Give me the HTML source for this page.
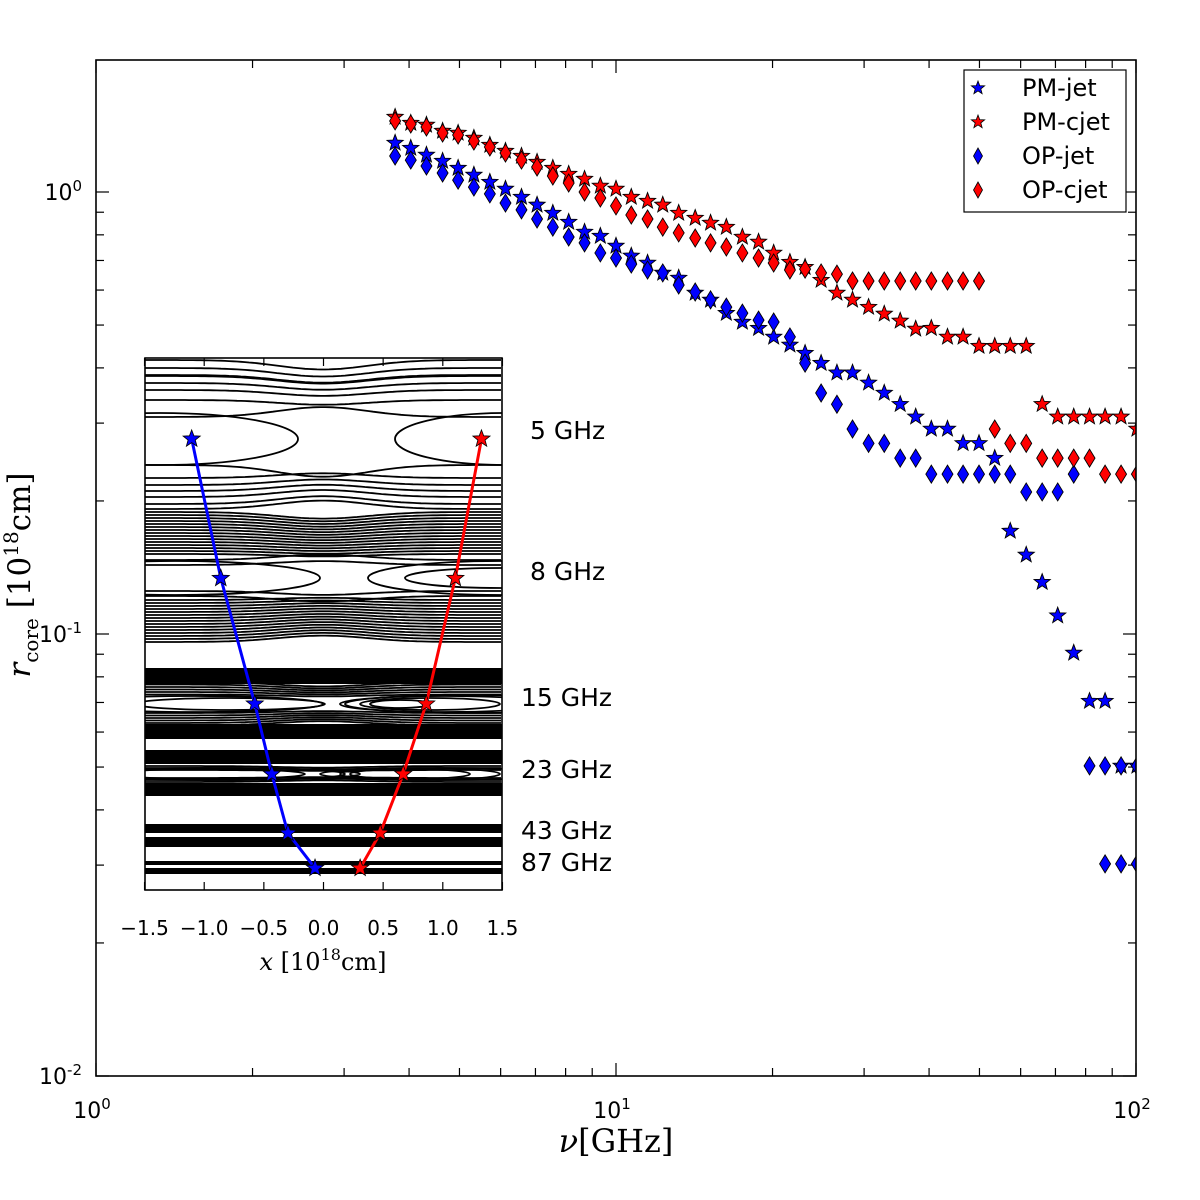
<!DOCTYPE html>
<html><head><meta charset="utf-8"><style>
html,body{margin:0;padding:0;background:#fff}
svg{display:block}
text{font-family:"DejaVu Sans","Liberation Sans",sans-serif}
.serif{font-family:"DejaVu Serif","Liberation Serif",serif}
</style></head><body>
<svg id="chart" width="1200" height="1200" viewBox="0 0 1200 1200" xmlns="http://www.w3.org/2000/svg">
<rect width="1200" height="1200" fill="#fff"/>
</svg>
<script>
// ---- Data ----
const nuGHz=[3.76,4.03,4.32,4.64,4.97,5.33,5.72,6.13,6.58,7.05,7.56,8.11,8.70,9.33,10.0,10.7,11.5,12.3,13.2,14.2,15.2,16.3,17.5,18.8,20.1,21.6,23.1,24.8,26.6,28.5,30.6,32.8,35.2,37.7,40.4,43.4,46.5,49.9,53.5,57.3,61.5,66.0,70.7,75.9,81.4,87.2,93.6,100.4];
const pmJet=[1.291,1.257,1.213,1.175,1.133,1.093,1.053,1.016,0.974,0.935,0.896,0.855,0.812,0.795,0.755,0.717,0.691,0.656,0.639,0.591,0.570,0.532,0.508,0.492,0.470,0.451,0.432,0.410,0.390,0.390,0.370,0.351,0.331,0.310,0.291,0.291,0.270,0.270,0.250,0.171,0.151,0.131,0.110,0.0906,0.0705,0.0705,0.0503,0.0503];
const pmCjet=[1.478,1.432,1.418,1.374,1.360,1.325,1.277,1.238,1.206,1.169,1.133,1.098,1.070,1.032,1.016,0.974,0.954,0.935,0.896,0.873,0.851,0.833,0.791,0.771,0.728,0.694,0.676,0.632,0.591,0.570,0.549,0.530,0.511,0.490,0.492,0.470,0.470,0.448,0.448,0.448,0.448,0.331,0.310,0.310,0.310,0.310,0.310,0.291];
const opJet=[1.206,1.181,1.145,1.104,1.064,1.026,0.990,0.944,0.911,0.869,0.833,0.791,0.767,0.728,0.709,0.687,0.666,0.656,0.616,0.594,0.570,0.549,0.532,0.513,0.508,0.470,0.410,0.351,0.331,0.291,0.270,0.270,0.250,0.250,0.230,0.230,0.230,0.230,0.230,0.230,0.2096,0.2096,0.2096,0.230,0.0503,0.0302,0.0302,0.0302];
const opCjet=[1.448,1.425,1.403,1.360,1.346,1.304,1.264,1.225,1.181,1.139,1.087,1.048,1.000,0.969,0.930,0.887,0.869,0.833,0.808,0.787,0.767,0.751,0.728,0.709,0.691,0.666,0.669,0.656,0.652,0.629,0.629,0.629,0.629,0.629,0.629,0.629,0.629,0.629,0.291,0.270,0.270,0.250,0.250,0.250,0.250,0.230,0.230,0.230];
const opJetExtra=[null,null,null,null,null,null,null,null,null,null,null,null,null,null,null,null,null,null,null,null,null,null,null,null,null,null,null,null,null,null,null,null,null,null,null,null,null,null,null,null,null,null,null,null,null,0.0503,0.0503,0.0503];
const xTickLabels=["0","1","2"];
const yTickLabels=["-2","-1","0"];
const legendLabels=["PM-jet","PM-cjet","OP-jet","OP-cjet"];
// inset data
const insetFreqLabels=["5 GHz","8 GHz","15 GHz","23 GHz","43 GHz","87 GHz"];
const insetJetX=[-1.105,-0.861,-0.576,-0.433,-0.298,-0.071];
const insetCjetX=[1.324,1.105,0.861,0.668,0.475,0.307];
const insetY=[0.848,0.586,0.350,0.218,0.107,0.041];
const insetTicks=[-1.5,-1.0,-0.5,0.0,0.5,1.0,1.5];

const NS="http://www.w3.org/2000/svg";
const svg=document.getElementById('chart');
function mk(tag,attrs,parent){const e=document.createElementNS(NS,tag);for(const k in attrs)e.setAttribute(k,attrs[k]);(parent||svg).appendChild(e);return e;}

// ---- axes ----
const L=96,R=1136,T=60,B=1076;
const xs=nu=>L+520*Math.log10(nu);
const ys=r=>192-442*Math.log10(r);

const defs=mk('defs',{});
const cp=mk('clipPath',{id:'plotclip'},defs);
mk('rect',{x:L,y:T,width:R-L,height:B-T},cp);
const cp2=mk('clipPath',{id:'insetclip'},defs);
mk('rect',{x:145,y:358,width:357,height:532},cp2);

// ticks
const ticks=mk('g',{stroke:'#000','stroke-width':1.2});


for(let d=0;d<=2;d++){for(let m=1;m<=9;m++){const v=Math.pow(10,d)*m;if(v>100)break;const x=xs(v);const len=m===1?13:8;
 mk('line',{x1:x,y1:B,x2:x,y2:B-len},ticks);mk('line',{x1:x,y1:T,x2:x,y2:T+len},ticks);}}
for(let d=-2;d<=0;d++){for(let m=1;m<=9;m++){const v=Math.pow(10,d)*m;const y=ys(v);if(y<T-0.5)break;const len=m===1?13:8;
 mk('line',{x1:L,y1:y,x2:L+len,y2:y},ticks);mk('line',{x1:R,y1:y,x2:R-len,y2:y},ticks);}}

// tick labels
xTickLabels.forEach((lab,i)=>{const t=mk('text',{x:xs(Math.pow(10,i))-4,y:1118,'font-size':22,'text-anchor':'middle'});
 
 t.appendChild(document.createTextNode('10'));const s=mk('tspan',{dy:-9,'font-size':15},t);s.textContent=lab;});
yTickLabels.forEach((lab,i)=>{const t=mk('text',{x:82,y:ys(Math.pow(10,i-2))+8,'font-size':22,'text-anchor':'end'});
 
 t.appendChild(document.createTextNode('10'));const s=mk('tspan',{dy:-9,'font-size':15},t);s.textContent=lab;});

// axis titles
const xt=mk('text',{x:616,y:1152,'font-size':32,'text-anchor':'middle',class:'serif'});

xt.innerHTML='<tspan font-style="italic">ν</tspan>[GHz]';
const yt=mk('text',{x:0,y:0,'font-size':31,'text-anchor':'middle',class:'serif',transform:'translate(30,575) rotate(-90)'});

yt.innerHTML='<tspan font-style="italic">r</tspan><tspan font-size="20" dy="8">core</tspan><tspan dy="-8"> [10</tspan><tspan font-size="20" dy="-12">18</tspan><tspan dy="12">cm]</tspan>';

// markers
function starPath(cx,cy,ro){const ri=ro*0.42;let p='';for(let k=0;k<10;k++){const a=-Math.PI/2+k*Math.PI/5;const rr=k%2?ri:ro;p+=(k?'L':'M')+(cx+rr*Math.cos(a)).toFixed(2)+' '+(cy+rr*Math.sin(a)).toFixed(2);}return p+'Z';}
function diamondPath(cx,cy,w,h){return `M${cx} ${cy-h}L${cx+w} ${cy}L${cx} ${cy+h}L${cx-w} ${cy}Z`;}
const plotG=mk('g',{'clip-path':'url(#plotclip)'});

function drawSeries(vals,color,shape,name){const g=mk('g',{fill:color,stroke:'#000','stroke-width':0.9},plotG);
 
 vals.forEach((v,i)=>{if(v==null)return;const x=xs(nuGHz[i]),y=ys(v);
  const p=mk('path',{d:shape==='star'?starPath(x,y,8.5):diamondPath(x,y,5.5,9)},g);
  });}
drawSeries(pmJet,'#0000ff','star','pm-jet-series');
drawSeries(pmCjet,'#ff0000','star','pm-cjet-series');
drawSeries(opJet,'#0000ff','diamond','op-jet-series');
drawSeries(opJetExtra,'#0000ff','diamond','op-jet-extra-series');
drawSeries(opCjet,'#ff0000','diamond','op-cjet-series');

// frame
const fr=mk('rect',{x:L,y:T,width:R-L,height:B-T,fill:'none',stroke:'#000','stroke-width':1.6});


// legend
const lg=mk('g',{});
mk('rect',{x:964,y:70,width:162,height:142,fill:'#fff',stroke:'#000','stroke-width':1.2},lg);
const lgCol=['#0000ff','#ff0000','#0000ff','#ff0000'],lgShape=['star','star','diamond','diamond'];
legendLabels.forEach((lab,i)=>{const y=88+34*i;const e=mk('g',{},lg);
 
 mk('path',{d:lgShape[i]==='star'?starPath(978,y,7):diamondPath(978,y,4.5,8),fill:lgCol[i],stroke:'#000','stroke-width':0.8},e);
 const t=mk('text',{x:1022,y:y+8,'font-size':24},e);t.textContent=lab;});

// ---- inset ----
const IX0=145,IX1=502,IY0=358,IY1=890;
const ix=v=>323.5+119.3*v;
const iy=v=>IY1-(IY1-IY0)*v;
const inset=mk('g',{});
mk('rect',{x:IX0,y:IY0,width:IX1-IX0,height:IY1-IY0,fill:'#fff'},inset);
const cg=mk('g',{'clip-path':'url(#insetclip)',fill:'none',stroke:'#000','stroke-width':1.8},inset);

function hline(yc,off,pinch){let d='';for(let x=IX0;x<=IX1;x+=4){const g=Math.exp(-Math.pow(x-323,2)/(2*45*45));const y=yc+off*(1-pinch*g);d+=(x===IX0?'M':'L')+x+' '+y.toFixed(1);}mk('path',{d},cg);}
function ell(cx,cy,rx,ry){mk('ellipse',{cx,cy,rx,ry},cg);}
function band(yc,offs,pinch,ellL,ellR){offs.forEach(o=>hline(yc,o,pinch(o)));ellL.forEach(e=>ell(e[0],yc,e[1],e[2]));ellR.forEach(e=>ell(e[0],yc,e[1],e[2]));}
// 5 GHz band
band(439,[-79,-71,-63,-56,-49,-39,-22,-64,26,39,46,52,58,65,70],o=>Math.abs(o)<30?-0.45:0.12,[[160,138,26]],[[505,110,26]]);
// 8 GHz band
(function(){const offs=[];for(let o=-66;o<=-22;o+=3)offs.push(o);for(let o=22;o<=64;o+=3)offs.push(o);offs.push(-18,18,-13,13);band(578,offs,o=>Math.abs(o)<20?-0.3:0.1,[[175,145,17]],[[500,132,17],[500,95,10]]);})();
// 15 GHz band
(function(){mk('rect',{x:IX0,y:668,width:357,height:16,fill:'#000',stroke:'none'},cg);mk('rect',{x:IX0,y:724,width:357,height:15,fill:'#000',stroke:'none'},cg);
 const offs=[];for(let o=-22;o<=-9;o+=2.5)offs.push(o);for(let o=9;o<=22;o+=2.5)offs.push(o);band(704,offs,o=>0.2,[[230,95,6],[195,128,8]],[[430,70,6],[445,105,8],[470,125,9],[400,30,4]]);})();
// 23 GHz band
(function(){mk('rect',{x:IX0,y:750,width:357,height:14,fill:'#000',stroke:'none'},cg);mk('rect',{x:IX0,y:783,width:357,height:13,fill:'#000',stroke:'none'},cg);
 band(774,[-8,-6,-4,4,6,8],o=>0.2,[[210,95,5],[225,120,6],[210,150,6]],[[410,60,5],[420,80,6],[440,120,6]]);})();
// 43 GHz
mk('rect',{x:IX0,y:824,width:357,height:9,fill:'#000',stroke:'none'},cg);
mk('rect',{x:IX0,y:837,width:357,height:10,fill:'#000',stroke:'none'},cg);
// 87 GHz
mk('rect',{x:IX0,y:861,width:357,height:4,fill:'#000',stroke:'none'},cg);
mk('rect',{x:IX0,y:868,width:357,height:6,fill:'#000',stroke:'none'},cg);
// inset ticks
insetTicks.forEach(v=>{const x=ix(v);mk('line',{x1:x,y1:IY0,x2:x,y2:IY0+8,stroke:'#000','stroke-width':1.2},inset);mk('line',{x1:x,y1:IY1,x2:x,y2:IY1-8,stroke:'#000','stroke-width':1.2},inset);
 const t=mk('text',{x:x,y:935,'font-size':20,'text-anchor':'middle'},inset);t.textContent=(v<0?'−':'')+Math.abs(v).toFixed(1);
 });
// inset paths
function insetLine(xsArr,color,name){const g=mk('g',{},inset);
 let d='';xsArr.forEach((v,i)=>{d+=(i?'L':'M')+ix(v).toFixed(1)+' '+iy(insetY[i]).toFixed(1);});
 mk('path',{d,fill:'none',stroke:color,'stroke-width':3},g);
 xsArr.forEach((v,i)=>{const p=mk('path',{d:starPath(ix(v),iy(insetY[i]),9),fill:color,stroke:'#000','stroke-width':0.8},g);
  });}
insetLine(insetJetX,'#0000ff','inset-jet-track');
insetLine(insetCjetX,'#ff0000','inset-cjet-track');
mk('rect',{x:IX0,y:IY0,width:IX1-IX0,height:IY1-IY0,fill:'none',stroke:'#000','stroke-width':1.6},inset);
const insetLabY=[430,571,697,769,830,862],insetLabX=[530,530,521,521,521,521];
insetFreqLabels.forEach((lab,i)=>{const t=mk('text',{x:insetLabX[i],y:insetLabY[i]+9,'font-size':25},inset);t.textContent=lab;
 });
const ixt=mk('text',{x:323,y:970,'font-size':24,'text-anchor':'middle',class:'serif'},inset);

ixt.innerHTML='<tspan font-style="italic">x</tspan> [10<tspan font-size="16" dy="-10">18</tspan><tspan dy="10">cm]</tspan>';
</script>
</body></html>
